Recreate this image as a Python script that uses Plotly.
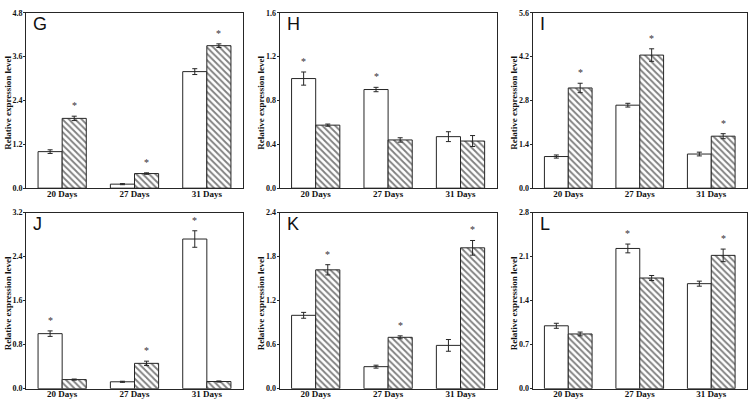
import plotly.graph_objects as go

categories = ["20 Days", "27 Days", "31 Days"]
panel_labels = ["G", "H", "I", "J", "K", "L"]

# white (control) bars and errors
white_vals = {
    "G": [1.00, 0.11, 3.19],
    "H": [1.00, 0.90, 0.47],
    "I": [1.01, 2.65, 1.09],
    "J": [1.00, 0.125, 2.72],
    "K": [1.00, 0.30, 0.59],
    "L": [1.00, 2.23, 1.67],
}
white_err = {
    "G": [0.05, 0.015, 0.08],
    "H": [0.06, 0.02, 0.045],
    "I": [0.05, 0.06, 0.06],
    "J": [0.05, 0.01, 0.15],
    "K": [0.04, 0.02, 0.08],
    "L": [0.04, 0.07, 0.04],
}
# hatched (treatment) bars and errors
hatch_vals = {
    "G": [1.91, 0.40, 3.90],
    "H": [0.575, 0.44, 0.43],
    "I": [3.20, 4.25, 1.66],
    "J": [0.165, 0.46, 0.13],
    "K": [1.62, 0.70, 1.92],
    "L": [0.87, 1.76, 2.12],
}
hatch_err = {
    "G": [0.06, 0.02, 0.05],
    "H": [0.01, 0.02, 0.05],
    "I": [0.15, 0.20, 0.08],
    "J": [0.01, 0.04, 0.01],
    "K": [0.07, 0.02, 0.10],
    "L": [0.03, 0.04, 0.10],
}
# significance marks (True = asterisk)
white_sig = {
    "G": [False, False, False],
    "H": [True, True, False],
    "I": [False, False, False],
    "J": [True, False, True],
    "K": [False, False, False],
    "L": [False, True, False],
}
hatch_sig = {
    "G": [True, True, True],
    "H": [False, False, False],
    "I": [True, True, True],
    "J": [False, True, False],
    "K": [True, True, True],
    "L": [False, False, True],
}
y_max = {"G": 4.8, "H": 1.6, "I": 5.6, "J": 3.2, "K": 2.4, "L": 2.8}
y_dtick = {"G": 1.2, "H": 0.4, "I": 1.4, "J": 0.8, "K": 0.6, "L": 0.7}

W, H = 754, 410
col_px = [(26, 243), (279.5, 496.7), (532.5, 747)]
row_px = [(9, 188.3), (213.3, 393.3)]
title_x_px = [8, 261, 514]
title_y_px = [101, 306]

BW = 1 / 3.0
LINE = "#262626"
serif = "Liberation Serif, Times New Roman, serif"

fig = go.Figure()
layout = {}
annotations = []
xpos = list(range(len(categories)))

for i, p in enumerate(panel_labels):
    r, c = divmod(i, 3)
    n = i + 1
    xa = "x" if n == 1 else f"x{n}"
    ya = "y" if n == 1 else f"y{n}"
    fig.add_trace(go.Bar(
        x=xpos, y=white_vals[p], width=BW, offset=-BW,
        marker=dict(color="white", line=dict(color=LINE, width=1)),
        error_y=dict(type="data", array=white_err[p], color=LINE, thickness=1, width=2.5),
        xaxis=xa, yaxis=ya, showlegend=False, hoverinfo="skip"))
    fig.add_trace(go.Bar(
        x=xpos, y=hatch_vals[p], width=BW, offset=0,
        marker=dict(color="white", line=dict(color=LINE, width=1),
                    pattern=dict(shape="\\", fgcolor="#000000", bgcolor="white",
                                 size=4.5, solidity=0.4)),
        error_y=dict(type="data", array=hatch_err[p], color=LINE, thickness=1, width=2.5),
        xaxis=xa, yaxis=ya, showlegend=False, hoverinfo="skip"))

    x0, x1 = col_px[c]
    y0, y1 = row_px[r]
    layout[f"xaxis{n}"] = dict(
        domain=[x0 / W, x1 / W], range=[-0.5, 2.5], anchor=ya,
        tickmode="array", tickvals=xpos, ticktext=categories,
        showline=True, linecolor=LINE, linewidth=1, mirror=True,
        ticks="", ticklabelstandoff=-3, showgrid=False, zeroline=False, fixedrange=True,
        tickfont=dict(family=serif, size=9, color="#111", weight="bold"))
    layout[f"yaxis{n}"] = dict(
        domain=[1 - y1 / H, 1 - y0 / H], range=[0, y_max[p]], anchor=xa,
        dtick=y_dtick[p], tick0=0, tickformat=".1f",
        showline=True, linecolor=LINE, linewidth=1, mirror=True,
        ticks="outside", ticklen=2, tickcolor=LINE, ticklabelstandoff=-1,
        showgrid=False, zeroline=False, fixedrange=True,
        tickfont=dict(family=serif, size=8, color="#111", weight="bold"))

    # panel letter
    annotations.append(dict(
        text=p, xref="paper", yref="paper",
        x=(x0 + 5) / W, y=1 - (y0 - 1) / H,
        xanchor="left", yanchor="top", showarrow=False,
        font=dict(family="Liberation Sans, Arial, sans-serif", size=18, color="#111")))
    # y-axis title
    annotations.append(dict(
        text="<b>Relative expression level</b>", xref="paper", yref="paper",
        x=title_x_px[c] / W, y=1 - title_y_px[r] / H, textangle=-90,
        xanchor="center", yanchor="middle", showarrow=False,
        font=dict(family=serif, size=9, color="#111")))
    # asterisks
    for k in xpos:
        if white_sig[p][k]:
            annotations.append(dict(
                text="*", x=k - BW / 2, y=white_vals[p][k] + white_err[p][k],
                xref=xa, yref=ya, yanchor="bottom", showarrow=False, yshift=3,
                font=dict(family=serif, size=10, color="#333")))
        if hatch_sig[p][k]:
            annotations.append(dict(
                text="*", x=k + BW / 2, y=hatch_vals[p][k] + hatch_err[p][k],
                xref=xa, yref=ya, yanchor="bottom", showarrow=False, yshift=3,
                font=dict(family=serif, size=10, color="#333")))

fig.update_layout(
    width=W, height=H, margin=dict(l=0, r=0, t=0, b=0),
    paper_bgcolor="white", plot_bgcolor="white",
    barmode="overlay", annotations=annotations,
    font=dict(family=serif, size=9, color="#111"),
    **layout)

fig.write_html("out.html", config={"displayModeBar": False},
               post_script="document.body.style.margin='0';document.body.style.overflow='hidden';")
